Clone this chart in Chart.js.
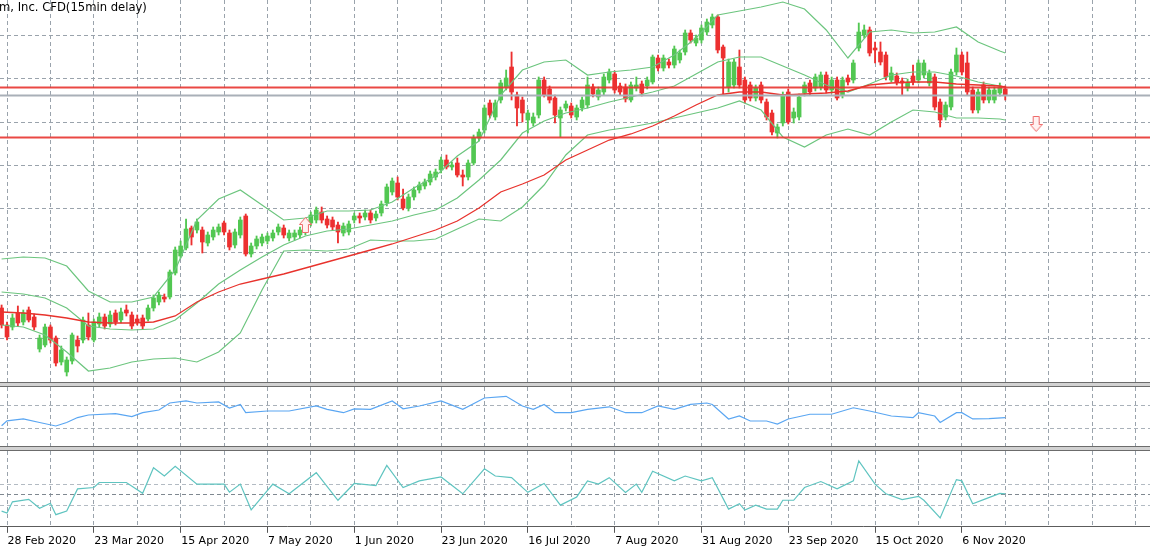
<!DOCTYPE html>
<html>
<head>
<meta charset="utf-8">
<title>CFD chart</title>
<script src="https://cdn.jsdelivr.net/npm/chart.js@4.4.0/dist/chart.umd.min.js"></script>
<style>
    html, body { margin: 0; padding: 0; background: #ffffff; }
    #wrap { position: relative; width: 1150px; height: 550px; overflow: hidden; font-family: 'DejaVu Sans', sans-serif; }
    #wrap canvas { position: absolute; left: 0; }
    .sep { position: absolute; left: 0; width: 1150px; height: 3px; background: #d2d2d2;
           border-top: 1px solid #6c6c6c; border-bottom: 1px solid #6c6c6c; }
    #title { position: absolute; left: -1px; top: 0px; font-size: 11.6px; color: #000; white-space: nowrap; }
</style>
</head>
<body>
<div id="wrap">
    <canvas id="mainChart" width="1150" height="382" style="top:0"></canvas>
    <div id="title">m, Inc. CFD(15min delay)</div>
    <div class="sep" style="top:382px"></div>
    <canvas id="rsiChart" width="1150" height="59" style="top:387px"></canvas>
    <div class="sep" style="top:446px"></div>
    <canvas id="cciChart" width="1150" height="99" style="top:451px"></canvas>
</div>
<script>
// Daily CFD chart: candles + Bollinger bands + slow MA, two oscillators below

// ---- axis labels ----
const dateLabels = ['28 Feb 2020', '23 Mar 2020', '15 Apr 2020', '7 May 2020', '1 Jun 2020', '23 Jun 2020',
    '16 Jul 2020', '7 Aug 2020', '31 Aug 2020', '23 Sep 2020', '15 Oct 2020', '6 Nov 2020'];
const dateLabelBars = [1, 17, 33, 49, 65, 81, 97, 113, 129, 145, 161, 177];

// ---- candles (bar 0 = 27 Feb 2020 ... bar 185 = 18 Nov 2020) ----
const candleOpen = [
    2060, 1975, 1965, 2035, 1990, 2050, 2015, 1855, 1875, 1965,
    1910, 1790, 1740, 1795, 1900, 1900, 1975, 1900, 1980, 2015,
    1980, 2035, 2000, 2050, 2025, 2005, 2010, 2005, 2060, 2090,
    2115, 2115, 2235, 2320, 2360, 2460, 2450, 2450, 2385, 2415,
    2440, 2485, 2435, 2375, 2425, 2520, 2330, 2370, 2385, 2395,
    2410, 2440, 2460, 2410, 2415, 2425, 2440, 2485, 2500, 2540,
    2505, 2500, 2475, 2435, 2440, 2500, 2520, 2515, 2535, 2510,
    2535, 2585, 2640, 2685, 2605, 2560, 2615, 2650, 2670, 2690,
    2715, 2750, 2800, 2765, 2785, 2725, 2715, 2785, 2910, 2950,
    3085, 3015, 3100, 3165, 3265, 3125, 3100, 3000, 2985, 3025,
    3200, 3155, 3110, 3010, 3060, 3070, 3015, 3060, 3075, 3165,
    3115, 3140, 3200, 3230, 3170, 3165, 3100, 3160, 3180, 3170,
    3190, 3310, 3260, 3290, 3275, 3300, 3340, 3435, 3385, 3400,
    3440, 3475, 3515, 3365, 3165, 3175, 3265, 3200, 3175, 3110,
    3175, 3090, 3035, 2935, 2985, 3140, 3010, 3015, 3135, 3185,
    3160, 3165, 3225, 3150, 3200, 3125, 3210, 3200, 3360, 3425,
    3450, 3360, 3340, 3325, 3200, 3220, 3195, 3160, 3220, 3200,
    3225, 3185, 3215, 3090, 3015, 3065, 3240, 3325, 3285, 3150,
    3050, 3175, 3100, 3100, 3135, 3155
];
const candleHigh = [
    2075, 1990, 2030, 2070, 2050, 2065, 2030, 1925, 1980, 1975,
    1920, 1870, 1815, 1935, 1920, 2015, 2035, 2005, 2035, 2030,
    2045, 2050, 2060, 2075, 2040, 2025, 2025, 2075, 2125, 2140,
    2130, 2250, 2365, 2395, 2505, 2470, 2505, 2465, 2440, 2465,
    2480, 2495, 2450, 2455, 2515, 2530, 2385, 2420, 2430, 2435,
    2450, 2480, 2475, 2450, 2450, 2465, 2500, 2540, 2565, 2565,
    2520, 2515, 2490, 2485, 2495, 2535, 2535, 2550, 2550, 2545,
    2595, 2680, 2710, 2715, 2655, 2630, 2665, 2690, 2705, 2745,
    2755, 2815, 2825, 2790, 2810, 2750, 2800, 2925, 2955, 3075,
    3100, 3100, 3200, 3250, 3340, 3140, 3115, 3050, 3035, 3215,
    3215, 3170, 3125, 3065, 3095, 3085, 3075, 3115, 3215, 3180,
    3165, 3230, 3255, 3245, 3185, 3180, 3190, 3215, 3195, 3215,
    3325, 3325, 3325, 3305, 3370, 3350, 3450, 3450, 3425, 3475,
    3505, 3530, 3525, 3375, 3305, 3305, 3350, 3215, 3190, 3175,
    3190, 3105, 3050, 2980, 3140, 3155, 3060, 3130, 3190, 3200,
    3230, 3240, 3240, 3215, 3215, 3215, 3225, 3300, 3485, 3475,
    3465, 3390, 3390, 3340, 3265, 3235, 3210, 3205, 3275, 3300,
    3300, 3250, 3230, 3105, 3090, 3255, 3360, 3340, 3340, 3165,
    3155, 3190, 3165, 3165, 3185, 3170
];
const candleLow = [
    1960, 1900, 1950, 1970, 1975, 1990, 1950, 1840, 1865, 1885,
    1770, 1775, 1720, 1780, 1840, 1885, 1900, 1890, 1965, 1955,
    1965, 1975, 1985, 2020, 1955, 1975, 1955, 1995, 2045, 2075,
    2090, 2105, 2225, 2310, 2350, 2375, 2435, 2335, 2370, 2400,
    2425, 2425, 2350, 2360, 2410, 2320, 2315, 2355, 2370, 2380,
    2395, 2425, 2410, 2395, 2400, 2410, 2425, 2470, 2485, 2485,
    2460, 2450, 2385, 2420, 2425, 2485, 2485, 2500, 2485, 2495,
    2520, 2570, 2625, 2600, 2550, 2545, 2600, 2635, 2655, 2675,
    2700, 2735, 2755, 2750, 2715, 2670, 2700, 2775, 2895, 2935,
    3010, 3000, 3085, 3150, 3100, 2970, 2990, 2935, 2970, 3010,
    3115, 3085, 2985, 2915, 3045, 3010, 3000, 3045, 3060, 3115,
    3100, 3125, 3185, 3135, 3125, 3090, 3090, 3145, 3120, 3155,
    3180, 3245, 3245, 3260, 3260, 3285, 3325, 3385, 3370, 3385,
    3425, 3460, 3335, 3125, 3140, 3160, 3160, 3085, 3095, 3095,
    3085, 3000, 2925, 2910, 2970, 2980, 2985, 3000, 3120, 3125,
    3145, 3150, 3135, 3135, 3100, 3110, 3175, 3185, 3345, 3410,
    3320, 3285, 3275, 3200, 3190, 3175, 3125, 3145, 3175, 3185,
    3210, 3170, 3050, 2965, 3000, 3050, 3225, 3225, 3125, 3035,
    3035, 3085, 3085, 3085, 3120, 3100
];
const candleClose = [
    1975, 1915, 2010, 1985, 2035, 2000, 1965, 1910, 1965, 1900,
    1785, 1850, 1800, 1925, 1870, 2000, 1915, 1990, 2015, 1970,
    2025, 1990, 2040, 2035, 1970, 1990, 1970, 2060, 2110, 2125,
    2105, 2240, 2350, 2370, 2455, 2415, 2490, 2390, 2425, 2450,
    2465, 2440, 2365, 2440, 2500, 2330, 2370, 2405, 2415, 2420,
    2435, 2465, 2425, 2435, 2435, 2450, 2485, 2525, 2550, 2500,
    2475, 2465, 2440, 2470, 2480, 2520, 2510, 2535, 2500, 2530,
    2580, 2665, 2695, 2615, 2560, 2615, 2650, 2675, 2690, 2730,
    2740, 2800, 2765, 2775, 2725, 2715, 2785, 2910, 2940, 3060,
    3025, 3085, 3185, 3210, 3140, 3060, 3035, 3035, 3015, 3200,
    3125, 3100, 3025, 3050, 3080, 3025, 3060, 3100, 3175, 3130,
    3150, 3215, 3240, 3150, 3140, 3105, 3175, 3175, 3135, 3200,
    3315, 3260, 3310, 3275, 3355, 3335, 3435, 3400, 3410, 3460,
    3490, 3515, 3350, 3310, 3290, 3290, 3175, 3100, 3110, 3160,
    3100, 3015, 2940, 2965, 3125, 2990, 3040, 3115, 3175, 3140,
    3215, 3225, 3150, 3200, 3110, 3200, 3190, 3285, 3440, 3450,
    3335, 3350, 3290, 3215, 3235, 3190, 3185, 3190, 3190, 3285,
    3285, 3235, 3065, 3000, 3075, 3240, 3325, 3240, 3140, 3050,
    3140, 3100, 3150, 3150, 3165, 3122
];

// ---- indicator lines, read every 4th bar ----
const bandBars = [0, 4, 8, 12, 16, 20, 24, 28, 32, 36, 40, 44, 48, 52, 56, 60, 64, 68, 72, 76,
    80, 84, 88, 92, 96, 100, 104, 108, 112, 116, 120, 124, 128, 132, 136, 140, 144, 148, 152, 156,
    160, 164, 168, 172, 176, 180, 184, 185];
const bbUpper = [2305, 2315, 2310, 2270, 2145, 2090, 2090, 2115, 2250, 2500, 2605, 2650, 2575, 2500, 2510, 2545,
    2545, 2550, 2590, 2660, 2720, 2820, 2895, 3125, 3250, 3290, 3300, 3225, 3240, 3250, 3265, 3325,
    3410, 3525, 3545, 3565, 3590, 3555, 3450, 3310, 3440, 3450, 3435, 3440, 3465, 3390, 3345, 3335];
const bbMiddle = [2140, 2130, 2110, 2060, 1970, 1955, 1950, 1955, 2000, 2085, 2180, 2250, 2315, 2375, 2420, 2445,
    2455, 2475, 2495, 2525, 2550, 2610, 2700, 2800, 2935, 2995, 3035, 3060, 3090, 3115, 3140, 3170,
    3230, 3290, 3315, 3315, 3270, 3225, 3175, 3140, 3180, 3225, 3240, 3240, 3220, 3190, 3170, 3165];
const bbLower = [1975, 1965, 1925, 1840, 1745, 1760, 1790, 1805, 1810, 1790, 1840, 1935, 2150, 2345, 2350, 2345,
    2355, 2400, 2395, 2395, 2405, 2455, 2505, 2495, 2565, 2675, 2825, 2925, 2950, 2965, 2985, 3010,
    3035, 3060, 3095, 3050, 2915, 2865, 2925, 2955, 2925, 2990, 3050, 3040, 3010, 3010, 3005, 3000];
const maSlow = [2040, 2035, 2025, 2010, 1990, 1985, 1985, 1990, 2020, 2090, 2140, 2180, 2205, 2230, 2260, 2290,
    2320, 2350, 2380, 2415, 2450, 2495, 2560, 2640, 2680, 2725, 2800, 2850, 2900, 2930, 2970, 3020,
    3075, 3125, 3140, 3140, 3125, 3130, 3135, 3145, 3175, 3185, 3190, 3190, 3180, 3175, 3170, 3165];

// ---- chart objects ----
const levelPrices = [3162, 2913];
const bidPrice = 3122;
const arrowBars = [56, 190.7];
const arrowPrices = [2475, 2980];

// ---- oscillator panels ----
const rsiBars = [0, 1, 4, 7, 10, 12, 14, 16, 21, 24, 26, 29, 31, 34, 36, 40, 42, 44, 45, 49,
    53, 58, 60, 63, 65, 68, 72, 74, 77, 81, 85, 89, 93, 96, 98, 100, 102, 105, 108, 112,
    115, 118, 121, 124, 127, 130, 131, 134, 136, 138, 141, 143, 145, 149, 153, 157, 160, 164, 168, 169,
    172, 173, 176, 177, 179, 182, 185];
const rsiValues = [35.0, 43.4, 46.6, 40.5, 34.5, 40.5, 49.0, 53.4, 55.7, 50.7, 57.4, 62.1, 74.1, 77.6, 74.1, 75.9,
    65.5, 71.6, 57.4, 60.3, 60.3, 69.0, 63.1, 57.4, 64.1, 63.1, 77.6, 64.1, 69.0, 77.6, 63.1, 82.8,
    85.7, 69.0, 63.1, 71.6, 57.4, 57.4, 63.1, 67.6, 57.4, 57.4, 69.0, 63.1, 71.6, 74.1, 71.6, 46.6,
    51.7, 43.1, 43.1, 37.9, 46.6, 54.7, 54.7, 65.9, 60.3, 51.7, 49.0, 57.4, 51.7, 40.5, 57.4, 57.4,
    46.6, 47.2, 49.0];
const rsiLevels = [30, 70];

const cciBars = [0, 1, 2, 5, 7, 9, 10, 12, 14, 17, 18, 23, 26, 28, 30, 32, 36, 41, 42, 44,
    46, 50, 53, 58, 62, 65, 69, 71, 74, 77, 81, 85, 89, 91, 94, 97, 100, 103, 106, 108,
    110, 112, 115, 117, 118, 120, 124, 126, 129, 131, 134, 136, 137, 139, 141, 143, 144, 146, 148, 151,
    154, 157, 158, 161, 163, 166, 169, 170, 173, 176, 177, 179, 181, 184, 185];
const cciValues = [-150, -168, -64, -41, -123, -77, -183, -150, 55, 68, 114, 114, 14, 250, 174, 263, 99, 99, 25, 99,
    -138, 99, 10, 205, -50, 105, 85, 272, 68, 129, 165, 10, 241, 174, 159, 23, 105, -95, -19, 129,
    99, 159, 23, 99, 23, 218, 129, 174, 129, 159, -132, -82, -141, -95, -132, -132, -50, -50, 68, 123,
    55, 129, 314, 99, 10, -44, -14, -50, -214, 141, 129, -82, -44, 14, 10];
const cciLevels = [-100, 0, 100];

// ---- view / style ----
const VIEW_FIRST = -0.295;
const VIEW_LAST = 211.68;
const GRID_COLOR = '#9aa3ac';
const GRID_DASH = [4, 3];
const UP_COLOR = '#52c752';
const DOWN_COLOR = '#ec3030';
const BAND_COLOR = '#6cc57e';

// vertical grid every 8 bars, starting at 28 Feb
function gridBarTicks() {
    const ticks = [];
    for (let b = 1; b <= VIEW_LAST; b += 8) ticks.push({ value: b });
    return ticks;
}

function xScaleOptions(extra) {
    return Object.assign({
        type: 'linear',
        min: VIEW_FIRST,
        max: VIEW_LAST,
        offset: false,
        afterBuildTicks: (scale) => { scale.ticks = gridBarTicks(); },
        grid: { color: GRID_COLOR, lineWidth: 1, drawTicks: false, offset: false },
        border: { display: false, dash: GRID_DASH },
        ticks: { display: false }
    }, extra || {});
}

function pairs(bars, values) {
    return bars.map((b, k) => ({ x: b, y: values[k] }));
}

function lineSet(data, color, width, order) {
    return {
        type: 'line', data: data, borderColor: color, borderWidth: width,
        pointRadius: 0, fill: false, tension: 0, order: order
    };
}

/**
 * Hollow signal arrow used as a point style
 */
function makeArrow(up) {
    const c = document.createElement('canvas');
    c.width = 13;
    c.height = 16;
    const g = c.getContext('2d');
    const pts = [[6.5, 0.5], [12.5, 7.5], [9.5, 7.5], [9.5, 15.5], [3.5, 15.5], [3.5, 7.5], [0.5, 7.5]];
    g.beginPath();
    pts.forEach(([px, py], k) => {
        const yy = up ? py : 16 - py;
        if (k === 0) g.moveTo(px, yy); else g.lineTo(px, yy);
    });
    g.closePath();
    g.fillStyle = '#fff1f1';
    g.fill();
    g.strokeStyle = '#ee6a6a';
    g.lineWidth = 1;
    g.stroke();
    return c;
}

/**
 * Main price panel
 */
function initializeMainChart() {
    const bars = candleOpen.map((_, i) => i);
    const colors = bars.map(i => candleClose[i] >= candleOpen[i] ? UP_COLOR : DOWN_COLOR);
    const gridPrices = [];
    for (let k = 0; k < 9; k++) gridPrices.push(1688.5 + 216.65 * k);

    new Chart(document.getElementById('mainChart'), {
        type: 'bar',
        data: {
            datasets: [
                {
                    data: bars.map(i => ({ x: i, y: [candleLow[i], candleHigh[i]] })),
                    backgroundColor: colors, barThickness: 1.2, grouped: false, minBarLength: 1, order: 6
                },
                {
                    data: bars.map(i => ({ x: i, y: [candleOpen[i], candleClose[i]] })),
                    backgroundColor: colors, barThickness: 4, grouped: false, minBarLength: 2, order: 5
                },
                lineSet(pairs(bandBars, bbUpper), BAND_COLOR, 1.2, 4),
                lineSet(pairs(bandBars, bbMiddle), BAND_COLOR, 1.2, 4),
                lineSet(pairs(bandBars, bbLower), BAND_COLOR, 1.2, 4),
                lineSet(pairs(bandBars, maSlow), '#e8322c', 1.3, 3),
                lineSet([{ x: -1, y: bidPrice }, { x: 215, y: bidPrice }], '#a9b0b8', 2, 2),
                lineSet([{ x: -1, y: levelPrices[0] }, { x: 215, y: levelPrices[0] }], 'rgba(232,52,48,0.9)', 2, 1),
                lineSet([{ x: -1, y: levelPrices[1] }, { x: 215, y: levelPrices[1] }], 'rgba(232,52,48,0.9)', 2, 1),
                {
                    type: 'scatter',
                    data: pairs(arrowBars, arrowPrices),
                    pointStyle: [makeArrow(true), makeArrow(false)],
                    pointRadius: 7, order: 0
                }
            ]
        },
        options: {
            responsive: false,
            animation: false,
            layout: { padding: 0, autoPadding: false },
            plugins: { legend: { display: false }, tooltip: { enabled: false } },
            scales: {
                x: xScaleOptions(),
                y: {
                    type: 'linear', min: 1690, max: 3600,
                    afterBuildTicks: (scale) => { scale.ticks = gridPrices.map(v => ({ value: v })); },
                    grid: { color: GRID_COLOR, drawTicks: false },
                    border: { display: false, dash: GRID_DASH },
                    ticks: { display: false }
                }
            }
        }
    });
}

/**
 * Upper oscillator (blue)
 */
function initializeRsiChart() {
    new Chart(document.getElementById('rsiChart'), {
        type: 'line',
        data: { datasets: [lineSet(pairs(rsiBars, rsiValues), '#5aa6f2', 1.2, 0)] },
        options: {
            responsive: false,
            animation: false,
            layout: { padding: 0, autoPadding: false },
            plugins: { legend: { display: false }, tooltip: { enabled: false } },
            scales: {
                x: xScaleOptions(),
                y: {
                    type: 'linear', min: 0, max: 101.7,
                    afterBuildTicks: (scale) => { scale.ticks = rsiLevels.map(v => ({ value: v })); },
                    grid: { color: '#a9b1b9', drawTicks: false },
                    border: { display: false, dash: GRID_DASH },
                    ticks: { display: false }
                }
            }
        }
    });
}

/**
 * Lower oscillator (teal) with the date axis
 */
function initializeCciChart() {
    new Chart(document.getElementById('cciChart'), {
        type: 'line',
        data: { datasets: [lineSet(pairs(cciBars, cciValues), '#5fc4c0', 1.2, 0)] },
        options: {
            responsive: false,
            animation: false,
            layout: { padding: 0, autoPadding: false },
            plugins: { legend: { display: false }, tooltip: { enabled: false } },
            scales: {
                x: xScaleOptions({
                    grid: {
                        color: GRID_COLOR, drawTicks: true, tickLength: 6, offset: false,
                        tickColor: (ctx) => (ctx.tick && dateLabelBars.includes(ctx.tick.value)) ? '#555555' : 'rgba(0,0,0,0)',
                        tickBorderDash: []
                    },
                    border: { display: true, color: '#5c5c5c', width: 1, dash: GRID_DASH },
                    ticks: {
                        display: true, autoSkip: false, maxRotation: 0, minRotation: 0,
                        align: 'start', labelOffset: 0.5, padding: 2, color: '#000000',
                        font: { family: 'DejaVu Sans', size: 11 },
                        callback: (value) => {
                            const k = dateLabelBars.indexOf(value);
                            return k >= 0 ? dateLabels[k] : '';
                        }
                    }
                }),
                y: {
                    type: 'linear', min: -295, max: 405,
                    afterBuildTicks: (scale) => { scale.ticks = cciLevels.map(v => ({ value: v })); },
                    grid: {
                        color: (ctx) => (ctx.tick && ctx.tick.value === 0) ? '#7f8890' : '#b3bbc3',
                        drawTicks: false
                    },
                    border: { display: false, dash: GRID_DASH },
                    ticks: { display: false }
                }
            }
        }
    });
}

initializeMainChart();
initializeRsiChart();
initializeCciChart();
</script>
</body>
</html>
